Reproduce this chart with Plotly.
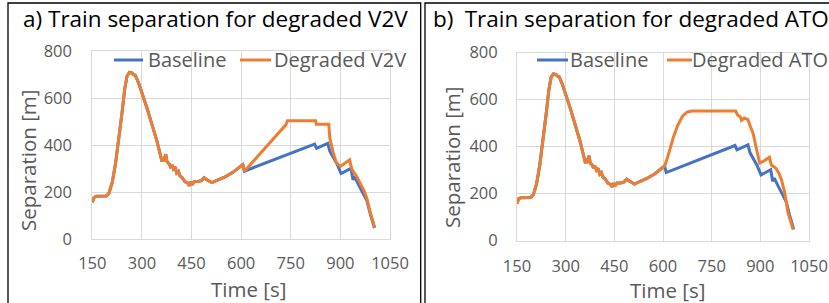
import plotly.graph_objects as go

# ---- data ----
common_t = [150, 155, 162, 175, 192, 200, 210, 220, 230, 240, 248, 255, 262, 270, 275, 280,
            290, 300, 315, 330, 345, 360, 366, 372, 376, 382, 386, 390, 395, 400, 405, 410,
            415, 422, 430, 438, 443, 447, 452, 458, 470, 480, 488, 495, 505, 512, 530, 550,
            575, 590, 605]
common_s = [157, 178, 183, 184, 184, 195, 240, 320, 420, 540, 640, 695, 710, 708, 700, 698,
            665, 625, 560, 490, 420, 335, 335, 362, 330, 322, 310, 318, 300, 308, 283, 290,
            270, 262, 245, 240, 228, 245, 232, 246, 246, 250, 262, 255, 245, 241, 253, 265,
            285, 300, 318]

base_tail_t = [610, 822, 828, 862, 868, 880, 890, 902, 932, 938, 943, 955, 970, 980, 990, 1003]
base_tail_s = [290, 405, 387, 408, 375, 345, 320, 280, 302, 253, 266, 232, 195, 165, 110, 48]

v2v_tail_t = [610, 735, 740, 825, 827, 865, 868, 878, 888, 900, 928, 934, 948, 962, 972, 980, 990, 1004]
v2v_tail_s = [290, 487, 505, 505, 490, 490, 432, 370, 325, 310, 338, 300, 270, 235, 205, 175, 115, 50]

ato_tail_t = [612, 620, 632, 645, 660, 675, 690, 824, 830, 838, 842, 850, 856, 862, 868, 878,
              888, 898, 912, 928, 934, 948, 958, 966, 975, 985, 1001]
ato_tail_s = [345, 385, 440, 490, 530, 548, 552, 552, 535, 528, 512, 522, 518, 515, 490, 455,
              390, 330, 340, 355, 322, 308, 285, 255, 205, 120, 48]

x_ticks = [150, 300, 450, 600, 750, 900, 1050]
y_ticks = [0, 200, 400, 600, 800]

panel_titles = ["a) Train separation for degraded V2V", "b)\u2002Train separation for degraded ATO"]
series_names = [["Baseline", "Degraded V2V"], ["Baseline", "Degraded ATO"]]

BLUE = "#4472C4"
ORANGE = "#ED7D31"
GRAY = "#595959"
GRID = "#D9D9D9"
FONT = "Open Sans"
W, H = 829, 303


def px(x):
    return x / W


def py(y):
    return 1 - y / H


base_t = common_t + base_tail_t
base_s = common_s + base_tail_s
v2v_t = common_t + v2v_tail_t
v2v_s = common_s + v2v_tail_s
ato_t = common_t + ato_tail_t
ato_s = common_s + ato_tail_s

fig = go.Figure()
fig.add_trace(go.Scatter(x=base_t, y=base_s, mode="lines", name=series_names[0][0],
                         line=dict(color=BLUE, width=3), xaxis="x", yaxis="y"))
fig.add_trace(go.Scatter(x=v2v_t, y=v2v_s, mode="lines", name=series_names[0][1],
                         line=dict(color=ORANGE, width=3), xaxis="x", yaxis="y"))
fig.add_trace(go.Scatter(x=base_t, y=base_s, mode="lines", name=series_names[1][0],
                         line=dict(color=BLUE, width=3), xaxis="x2", yaxis="y2"))
fig.add_trace(go.Scatter(x=ato_t, y=ato_s, mode="lines", name=series_names[1][1],
                         line=dict(color=ORANGE, width=3), xaxis="x2", yaxis="y2"))

axis_common = dict(showgrid=True, gridcolor=GRID, gridwidth=1, zeroline=False,
                   showline=True, linecolor=GRID, linewidth=1, mirror=True,
                   ticks="outside", tickcolor="rgba(0,0,0,0)", automargin=False,
                   tickfont=dict(family=FONT, size=16.5, color=GRAY), fixedrange=True)

fig.update_layout(
    width=W, height=H, margin=dict(l=0, r=0, t=0, b=0, pad=0, autoexpand=False),
    paper_bgcolor="white", plot_bgcolor="white", showlegend=False,
    xaxis=dict(domain=[px(92.3), px(390)], range=[150, 1050], tickvals=x_ticks,
               anchor="y", ticklen=9, **axis_common),
    yaxis=dict(domain=[py(239.3), py(51.3)], range=[0, 800], tickvals=y_ticks,
               anchor="x", ticklen=16, **axis_common),
    xaxis2=dict(domain=[px(517), px(809)], range=[150, 1050], tickvals=x_ticks,
                anchor="y2", ticklen=10, **axis_common),
    yaxis2=dict(domain=[py(240.7), py(52.7)], range=[0, 800], tickvals=y_ticks,
                anchor="x2", ticklen=15, **axis_common),
)

shapes = []
# panel borders
shapes.append(dict(type="rect", xref="paper", yref="paper", x0=px(8), x1=px(420.7),
                   y0=py(3), y1=py(320), line=dict(color="#000000", width=1.3)))
shapes.append(dict(type="rect", xref="paper", yref="paper", x0=px(425), x1=px(840),
                   y0=py(3), y1=py(320), line=dict(color="#000000", width=1.3)))
# legend line samples
legend_lines = [(114, 143, BLUE), (240, 271, ORANGE), (537, 568, BLUE), (667, 692, ORANGE)]
for x0, x1, c in legend_lines:
    shapes.append(dict(type="line", xref="paper", yref="paper", x0=px(x0), x1=px(x1),
                       y0=py(60), y1=py(60), line=dict(color=c, width=3)))
fig.update_layout(shapes=shapes)

ann = []


def add_text(text, x, y, size, color, angle=0):
    ann.append(dict(text=text, x=px(x), y=py(y), xref="paper", yref="paper",
                    xanchor="center", yanchor="middle", showarrow=False, textangle=angle,
                    font=dict(family=FONT, size=size, color=color)))


add_text(panel_titles[0], 215, 19, 22.5, "#000000")
add_text(panel_titles[1], 631, 19, 22.5, "#000000")
add_text(series_names[0][0], 187, 60, 20, GRAY)
add_text(series_names[0][1], 340, 60, 20, GRAY)
add_text(series_names[1][0], 609, 60, 20, GRAY)
add_text(series_names[1][1], 760, 60, 20, GRAY)
add_text("Separation [m]", 28, 160, 20.5, GRAY, angle=-90)
add_text("Separation [m]", 452, 157, 20.5, GRAY, angle=-90)
add_text("Time [s]", 249, 289, 20.5, GRAY)
add_text("Time [s]", 667, 290, 20.5, GRAY)
fig.update_layout(annotations=ann)

fig.write_html("out.html", config={"displayModeBar": False},
               post_script="document.body.style.margin='0';document.body.style.overflow='hidden';")
